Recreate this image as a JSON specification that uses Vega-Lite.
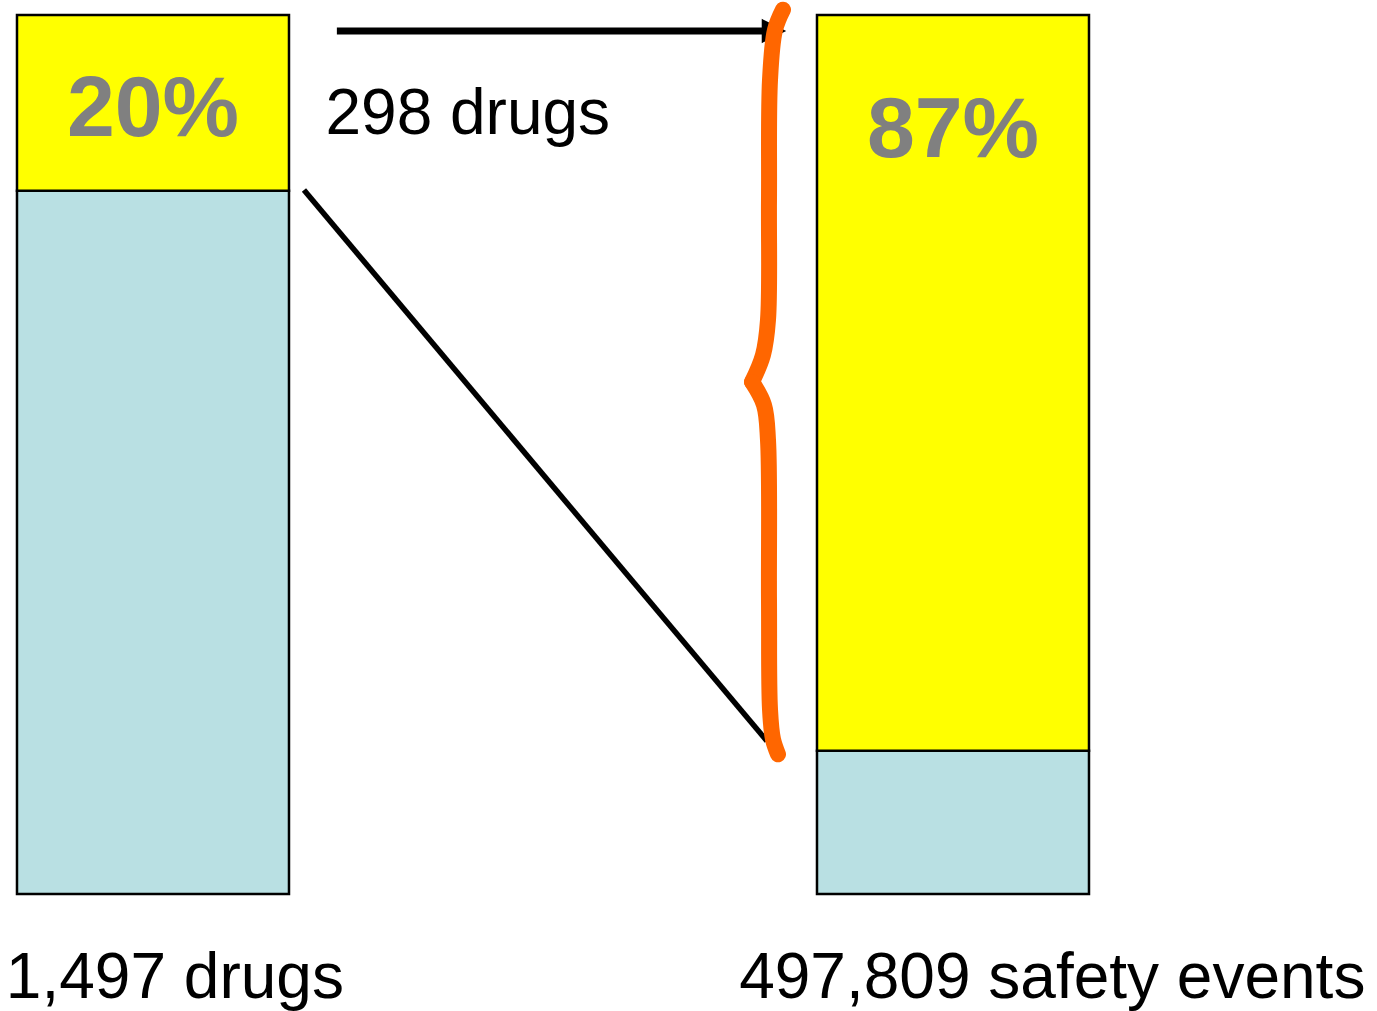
{
  "$schema": "https://vega.github.io/schema/vega-lite/v6.json",
  "width": 1377,
  "height": 1011,
  "autosize": {"type": "fit", "contains": "padding"},
  "padding": 0,
  "background": "white",
  "config": {"view": {"stroke": null}, "font": "Liberation Sans"},
  "datasets": {
    "bars": [
      {"bar": "1,497 drugs", "segment": "other", "share": 80.0},
      {"bar": "1,497 drugs", "segment": "subset (298 drugs)", "share": 20.0},
      {"bar": "497,809 safety events", "segment": "other", "share": 16.3},
      {"bar": "497,809 safety events", "segment": "subset (298 drugs)", "share": 83.7}
    ],
    "pctLabels": [
      {"label": "20%", "x": 0.5, "y": 86.23},
      {"label": "87%", "x": 3.441, "y": 83.85}
    ],
    "topCaption": [
      {"label": "298 drugs", "x": 1.134, "y": 86.5}
    ],
    "bottomCaptions": [
      {"label": "1,497 drugs", "x": -0.041, "y": -11.83},
      {"label": "497,809 safety events", "x": 2.655, "y": -11.83}
    ],
    "arrow": [
      {"x": 1.176, "y": 98.18},
      {"x": 2.75, "y": 98.18}
    ],
    "arrowHead": [
      {"x": 2.783, "y": 98.18}
    ],
    "diagonal": [
      {"x": 1.055, "y": 80.09},
      {"x": 2.757, "y": 17.4}
    ],
    "brace": [
      {"part": "upper", "step": 1, "x": 2.8162, "y": 100.6},
      {"part": "upper", "step": 2, "x": 2.7868, "y": 98.3},
      {"part": "upper", "step": 3, "x": 2.7684, "y": 92.6},
      {"part": "upper", "step": 4, "x": 2.7647, "y": 78.95},
      {"part": "upper", "step": 5, "x": 2.761, "y": 65.3},
      {"part": "upper", "step": 6, "x": 2.7426, "y": 61.32},
      {"part": "upper", "step": 7, "x": 2.7022, "y": 58.25},
      {"part": "lower", "step": 1, "x": 2.7022, "y": 58.25},
      {"part": "lower", "step": 2, "x": 2.7463, "y": 55.63},
      {"part": "lower", "step": 3, "x": 2.761, "y": 51.65},
      {"part": "lower", "step": 4, "x": 2.7647, "y": 33.45},
      {"part": "lower", "step": 5, "x": 2.7684, "y": 21.0},
      {"part": "lower", "step": 6, "x": 2.7794, "y": 17.6},
      {"part": "lower", "step": 7, "x": 2.7978, "y": 15.9}
    ]
  },
  "resolve": {"scale": {"x": "independent"}},
  "layer": [
    {
      "data": {"name": "bars"},
      "mark": {"type": "bar", "stroke": "black", "strokeWidth": 2.5},
      "encoding": {
        "x": {
          "field": "bar",
          "type": "nominal",
          "scale": {"domain": ["1,497 drugs", "497,809 safety events"], "paddingInner": 0.66, "paddingOuter": 0.190625, "align": 0.0557},
          "axis": null
        },
        "y": {
          "field": "share",
          "type": "quantitative",
          "stack": "zero",
          "scale": {"domain": [-13.311, 101.706], "nice": false, "zero": false},
          "axis": null
        },
        "color": {
          "field": "segment",
          "type": "nominal",
          "scale": {"domain": ["other", "subset (298 drugs)"], "range": ["#B9E0E3", "#FFFF00"]},
          "legend": null
        },
        "order": {"field": "segment", "type": "ordinal", "sort": "ascending"}
      }
    },
    {
      "data": {"name": "arrow"},
      "mark": {"type": "line", "color": "black", "strokeWidth": 7},
      "encoding": {
        "x": {"field": "x", "type": "quantitative", "scale": {"domain": [-0.0625, 5.0], "nice": false, "zero": false}, "axis": null},
        "y": {"field": "y", "type": "quantitative", "scale": {"domain": [-13.311, 101.706], "nice": false, "zero": false}, "axis": null}
      }
    },
    {
      "data": {"name": "arrowHead"},
      "mark": {"type": "point", "shape": "M-1,-1L1,0L-1,1Z", "filled": true, "color": "black", "size": 600, "opacity": 1, "strokeWidth": 0},
      "encoding": {
        "x": {"field": "x", "type": "quantitative", "scale": {"domain": [-0.0625, 5.0], "nice": false, "zero": false}, "axis": null},
        "y": {"field": "y", "type": "quantitative", "scale": {"domain": [-13.311, 101.706], "nice": false, "zero": false}, "axis": null}
      }
    },
    {
      "data": {"name": "diagonal"},
      "mark": {"type": "line", "color": "black", "strokeWidth": 5.5},
      "encoding": {
        "x": {"field": "x", "type": "quantitative", "scale": {"domain": [-0.0625, 5.0], "nice": false, "zero": false}, "axis": null},
        "y": {"field": "y", "type": "quantitative", "scale": {"domain": [-13.311, 101.706], "nice": false, "zero": false}, "axis": null}
      }
    },
    {
      "data": {"name": "brace"},
      "mark": {"type": "line", "color": "#FF6600", "strokeWidth": 16, "strokeCap": "round", "strokeJoin": "round", "interpolate": "catmull-rom"},
      "encoding": {
        "x": {"field": "x", "type": "quantitative", "scale": {"domain": [-0.0625, 5.0], "nice": false, "zero": false}, "axis": null},
        "y": {"field": "y", "type": "quantitative", "scale": {"domain": [-13.311, 101.706], "nice": false, "zero": false}, "axis": null},
        "detail": {"field": "part", "type": "nominal"},
        "order": {"field": "step", "type": "quantitative"}
      }
    },
    {
      "data": {"name": "pctLabels"},
      "mark": {"type": "text", "align": "center", "baseline": "alphabetic", "fontSize": 86, "fontWeight": "bold", "color": "#808080", "font": "Liberation Sans"},
      "encoding": {
        "x": {"field": "x", "type": "quantitative", "scale": {"domain": [-0.0625, 5.0], "nice": false, "zero": false}, "axis": null},
        "y": {"field": "y", "type": "quantitative", "scale": {"domain": [-13.311, 101.706], "nice": false, "zero": false}, "axis": null},
        "text": {"field": "label", "type": "nominal"}
      }
    },
    {
      "data": {"name": "topCaption"},
      "mark": {"type": "text", "align": "left", "baseline": "alphabetic", "fontSize": 64, "color": "black", "font": "Liberation Sans"},
      "encoding": {
        "x": {"field": "x", "type": "quantitative", "scale": {"domain": [-0.0625, 5.0], "nice": false, "zero": false}, "axis": null},
        "y": {"field": "y", "type": "quantitative", "scale": {"domain": [-13.311, 101.706], "nice": false, "zero": false}, "axis": null},
        "text": {"field": "label", "type": "nominal"}
      }
    },
    {
      "data": {"name": "bottomCaptions"},
      "mark": {"type": "text", "align": "left", "baseline": "alphabetic", "fontSize": 64, "color": "black", "font": "Liberation Sans"},
      "encoding": {
        "x": {"field": "x", "type": "quantitative", "scale": {"domain": [-0.0625, 5.0], "nice": false, "zero": false}, "axis": null},
        "y": {"field": "y", "type": "quantitative", "scale": {"domain": [-13.311, 101.706], "nice": false, "zero": false}, "axis": null},
        "text": {"field": "label", "type": "nominal"}
      }
    }
  ]
}
